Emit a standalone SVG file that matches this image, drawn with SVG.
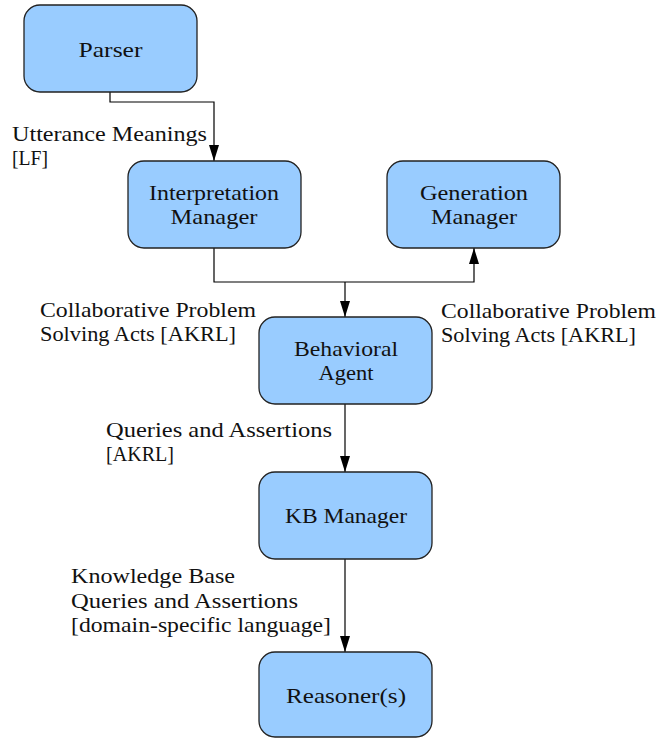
<svg xmlns="http://www.w3.org/2000/svg" width="659" height="738" viewBox="0 0 659 738">
<style>
.box{fill:#99ccff;stroke:#222;stroke-width:1.3}
.c{text-anchor:middle}
.ln{fill:none;stroke:#000;stroke-width:1.2}
</style>
<defs>
<marker id="arr" viewBox="0 0 16 10" refX="16" refY="5" markerWidth="16" markerHeight="10" orient="auto" markerUnits="userSpaceOnUse">
<path d="M0,0 L16,5 L0,10 Z" fill="#000"/>
</marker>
</defs>
<g id="connectors">
<path class="ln" d="M110,92 V102 H214 V161" marker-end="url(#arr)"/>
<path class="ln" d="M214,248 V282 H474 V248" marker-end="url(#arr)"/>
<path class="ln" d="M345,282 V317" marker-end="url(#arr)"/>
<path class="ln" d="M345,404 V472" marker-end="url(#arr)"/>
<path class="ln" d="M345,559 V652" marker-end="url(#arr)"/>
</g>
<g id="labels" font-family="Liberation Serif" font-size="21" fill="#111">
<text x="12" y="141" textLength="195" lengthAdjust="spacingAndGlyphs">Utterance Meanings</text>
<text x="12" y="165" textLength="36" lengthAdjust="spacingAndGlyphs">[LF]</text>
<text x="40" y="317" textLength="216" lengthAdjust="spacingAndGlyphs">Collaborative Problem</text>
<text x="40" y="341" textLength="196" lengthAdjust="spacingAndGlyphs">Solving Acts [AKRL]</text>
<text x="441" y="318" textLength="215" lengthAdjust="spacingAndGlyphs">Collaborative Problem</text>
<text x="441" y="342" textLength="195" lengthAdjust="spacingAndGlyphs">Solving Acts [AKRL]</text>
<text x="106" y="437" textLength="226" lengthAdjust="spacingAndGlyphs">Queries and Assertions</text>
<text x="106" y="461" textLength="68" lengthAdjust="spacingAndGlyphs">[AKRL]</text>
<text x="71" y="583" textLength="164" lengthAdjust="spacingAndGlyphs">Knowledge Base</text>
<text x="71" y="608" textLength="227" lengthAdjust="spacingAndGlyphs">Queries and Assertions</text>
<text x="71" y="632" textLength="260" lengthAdjust="spacingAndGlyphs">[domain-specific language]</text>
</g>
<g id="parser" font-family="Liberation Serif" font-size="21" fill="#111">
<rect class="box" x="24" y="5" width="173" height="87" rx="16"/>
<text class="c" x="110.5" y="57" textLength="64" lengthAdjust="spacingAndGlyphs">Parser</text>
</g>
<g id="interpretation-manager" font-family="Liberation Serif" font-size="21" fill="#111">
<rect class="box" x="128" y="161" width="173" height="87" rx="16"/>
<text class="c" x="214" y="200" textLength="130" lengthAdjust="spacingAndGlyphs">Interpretation</text>
<text class="c" x="214" y="224" textLength="87" lengthAdjust="spacingAndGlyphs">Manager</text>
</g>
<g id="generation-manager" font-family="Liberation Serif" font-size="21" fill="#111">
<rect class="box" x="387" y="161" width="173" height="87" rx="16"/>
<text class="c" x="474" y="200" textLength="108" lengthAdjust="spacingAndGlyphs">Generation</text>
<text class="c" x="474" y="224" textLength="86" lengthAdjust="spacingAndGlyphs">Manager</text>
</g>
<g id="behavioral-agent" font-family="Liberation Serif" font-size="21" fill="#111">
<rect class="box" x="259" y="317" width="173" height="87" rx="16"/>
<text class="c" x="346" y="356" textLength="104" lengthAdjust="spacingAndGlyphs">Behavioral</text>
<text class="c" x="346" y="380" textLength="55" lengthAdjust="spacingAndGlyphs">Agent</text>
</g>
<g id="kb-manager" font-family="Liberation Serif" font-size="21" fill="#111">
<rect class="box" x="259" y="472" width="173" height="87" rx="16"/>
<text class="c" x="346" y="523" textLength="122" lengthAdjust="spacingAndGlyphs">KB Manager</text>
</g>
<g id="reasoners" font-family="Liberation Serif" font-size="21" fill="#111">
<rect class="box" x="259" y="652" width="173" height="85" rx="16"/>
<text class="c" x="346" y="703" textLength="120" lengthAdjust="spacingAndGlyphs">Reasoner(s)</text>
</g>
</svg>
